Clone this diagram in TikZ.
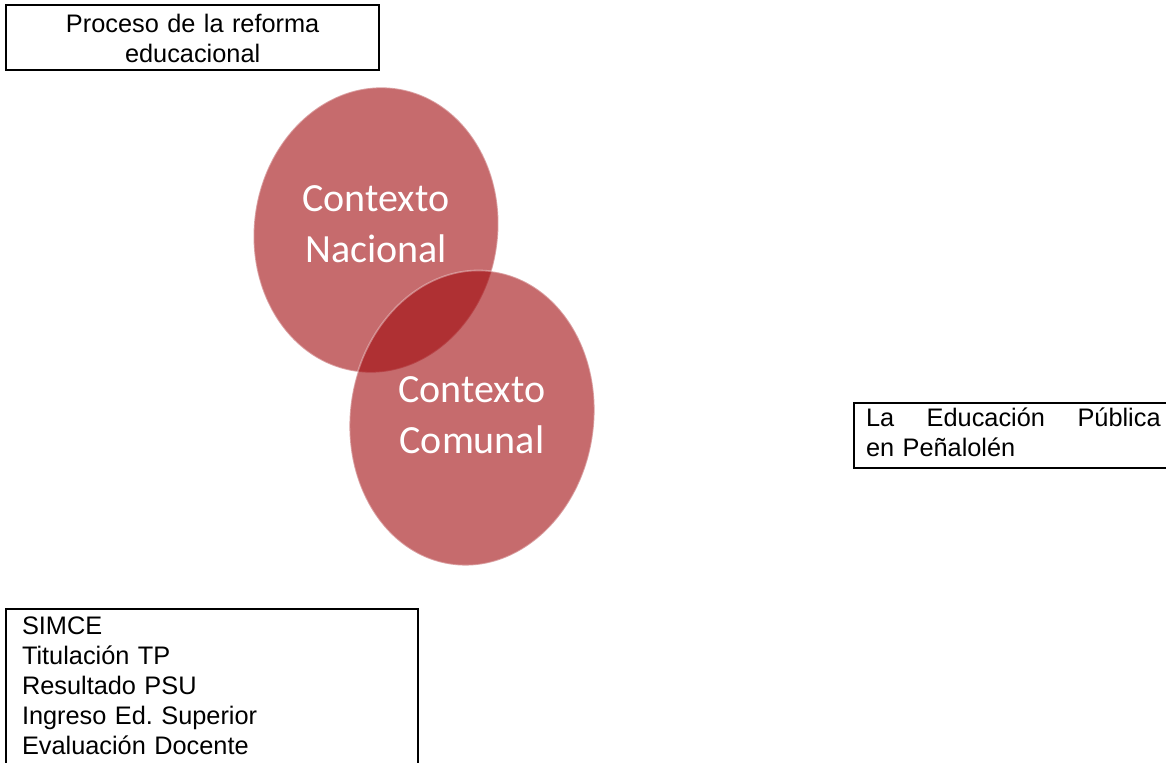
\documentclass[tikz,border=0pt]{standalone}
\usepackage{fontspec}
\setmainfont{Liberation Sans}
\newfontfamily\carlito{Carlito}
\usepackage{tikz}
\definecolor{burdeo}{RGB}{160,8,12}

\begin{document}
\begin{tikzpicture}[x=0.75pt,y=-0.75pt,
                      recuadro/.style={draw=black,line width=1.5pt,inner xsep=9pt,anchor=north west,font=\fontsize{19}{22.5}\selectfont\frenchspacing},
                      burbuja/.style={fill=burdeo,fill opacity=0.6,draw=white,draw opacity=0.35,line width=1.2pt},
                      rotulo/.style={text=white,align=center,font=\carlito\fontsize{30}{38}\selectfont}]
                      \useasboundingbox (0,0) rectangle (1166,763);
                      % recuadros de texto
                      \node[recuadro,minimum width=279.75pt,minimum height=48.75pt,text width=262pt,align=center,inner ysep=0pt](proceso)at(5,4){\strut Proceso de la reforma\\educacional};
                      \node[recuadro,minimum height=48.75pt,text width=221pt,align=left,inner ysep=1.5pt](penalolen)at(853,402){\strut La\hfill Educación\hfill Pública\\en Peñalolén\strut};
                      \node[recuadro,inner xsep=12pt,inner ysep=3pt,text width=285pt,align=left](indicadores)at(5,608){\strut SIMCE\\Titulación TP\\Resultado PSU\\Ingreso Ed. Superior\\Evaluación Docente\strut};
                      % circulos
                      \path[burbuja,rotate around={-8:(376,230)}] (376,230) ellipse [x radius=122,y radius=143];
                      \path[burbuja,rotate around={-8:(472,418)}] (472,418) ellipse [x radius=122,y radius=148];
                      \node[rotulo](nacional)at(376,227){\strut Contexto\\\strut Nacional};
                      \node[rotulo](comunal)at(472,418){\strut Contexto\\\strut Comunal};
                  \end{tikzpicture}
\end{document}
